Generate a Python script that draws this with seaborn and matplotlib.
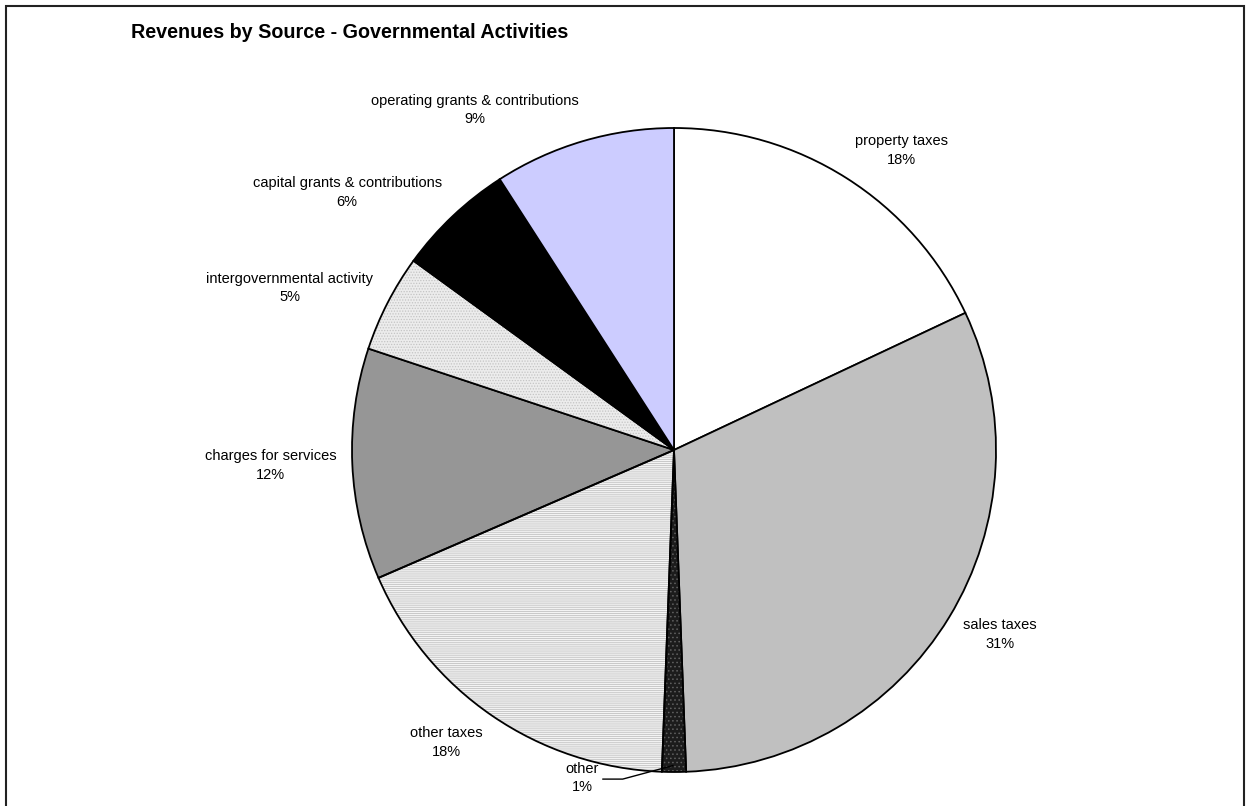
import numpy as np
import matplotlib
matplotlib.use("Agg")
import matplotlib.pyplot as plt
import seaborn as sns
from matplotlib.patches import Wedge, Rectangle

# ---- data ----
categories = ["property taxes", "sales taxes", "other", "other taxes",
              "charges for services", "intergovernmental activity",
              "capital grants & contributions", "operating grants & contributions"]
shares = [18.0, 31.4, 1.2, 17.9, 11.6, 4.9, 5.9, 9.1]
pct_labels = ["18%", "31%", "1%", "18%", "12%", "5%", "6%", "9%"]
title = "Revenues by Source - Governmental Activities"

# ---- styles ----
colors = ["#ffffff", "#c0c0c0", "#1c1c1c", "#f4f4f4", "#969696", "#ececec", "#000000", "#ccccff"]
hatches = [None, None, "....", "--------", None, "......", None, None]
hatch_colors = [None, None, "#606060", "#c2c2c2", None, "#c4c4c4", None, None]

sns.set_theme(style="white")
plt.rcParams["font.family"] = ["Liberation Sans", "DejaVu Sans"]
plt.rcParams["hatch.linewidth"] = 0.6
plt.rcParams["text.color"] = "black"

W, H = 1246, 806
fig = plt.figure(figsize=(W / 100, H / 100), dpi=100)
ax = fig.add_axes([0, 0, 1, 1])
cx, cy, R = 674, H - 450, 322

wedges, _ = ax.pie(shares, startangle=90, counterclock=False, colors=colors,
                   center=(cx, cy), radius=R,
                   wedgeprops=dict(edgecolor="black", linewidth=1.3))
ax.set_xlim(0, W)
ax.set_ylim(0, H)
ax.set_aspect("equal")
ax.axis("off")

# hatched fills + outlines
for w, h, hc in zip(wedges, hatches, hatch_colors):
    if h:
        w.set_hatch(h)
        w.set_edgecolor(hc)
        w.set_linewidth(0)
        ax.add_patch(Wedge(w.center, w.r, w.theta1, w.theta2, fill=False,
                           edgecolor="black", linewidth=1.3, zorder=w.get_zorder() + 0.1))

# labels
fig.canvas.draw()
renderer = fig.canvas.get_renderer()
label_shift = {2: (-92, 10)}
for i, w in enumerate(wedges):
    mid = np.deg2rad((w.theta1 + w.theta2) / 2)
    ux, uy = np.cos(mid), np.sin(mid)
    px, py = cx + 1.05 * R * ux, cy + 1.05 * R * uy
    t = ax.text(px, py, f"{categories[i]}\n{pct_labels[i]}", ha="center", va="center",
                multialignment="center", fontsize=10.5, linespacing=1.42, color="black")
    bb = t.get_window_extent(renderer)
    tw, th = bb.width, bb.height
    if i in label_shift:
        dx, dy = label_shift[i]
        tx, ty = px + dx, py + dy
        t.set_position((tx, ty))
        ex, ey = cx + 0.98 * R * ux - 1, cy + 0.98 * R * uy
        rx = tx + tw / 2 + 4
        ax.plot([ex, rx + 20, rx], [ey, ty - 1, ty - 1], color="black", linewidth=1,
                zorder=5)
    else:
        t.set_position((px + tw / 2 * np.sign(ux), py + th / 2 * uy))

ax.text(131, H - 33, title, ha="left", va="center", fontsize=14.2, fontweight="bold",
        color="black")

ax.add_patch(Rectangle((5.5, -20), 1238, H - 6 + 20, fill=False, edgecolor="#222222",
                       linewidth=1.5, clip_on=False))

fig.savefig("out.png", dpi=100)
